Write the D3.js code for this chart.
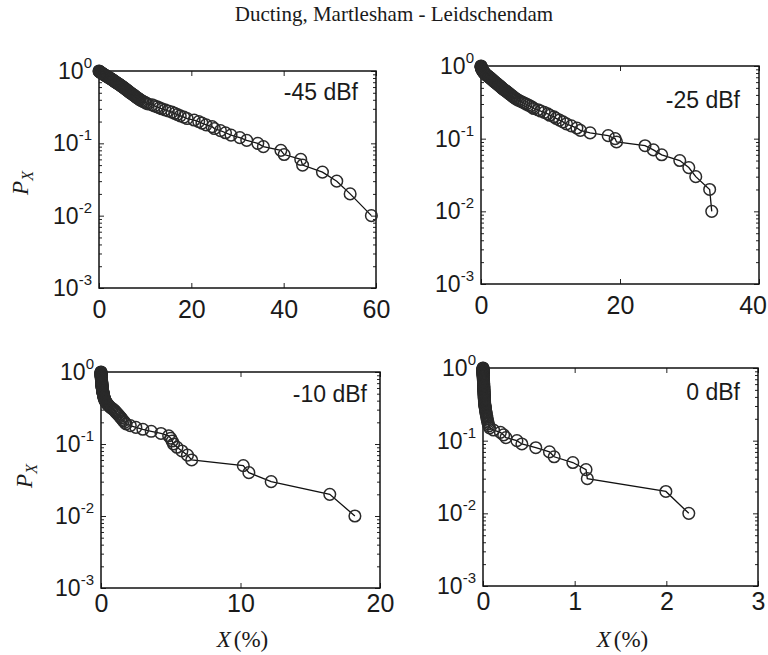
<!DOCTYPE html>
<html>
<head>
<meta charset="utf-8">
<script src="https://cdn.jsdelivr.net/npm/d3@7"></script>
<style>
  body { margin: 0; background: #fff; }
</style>
</head>
<body>
<svg id="chart" width="768" height="655"></svg>
<script>
// exceedance levels, shared by all four panels (1.00 down to 0.01)
const pLevels = [
  1.00, 0.99, 0.98, 0.97, 0.96, 0.95, 0.94, 0.93, 0.92, 0.91,
  0.90, 0.89, 0.88, 0.87, 0.86, 0.85, 0.84, 0.83, 0.82, 0.81,
  0.80, 0.79, 0.78, 0.77, 0.76, 0.75, 0.74, 0.73, 0.72, 0.71,
  0.70, 0.69, 0.68, 0.67, 0.66, 0.65, 0.64, 0.63, 0.62, 0.61,
  0.60, 0.59, 0.58, 0.57, 0.56, 0.55, 0.54, 0.53, 0.52, 0.51,
  0.50, 0.49, 0.48, 0.47, 0.46, 0.45, 0.44, 0.43, 0.42, 0.41,
  0.40, 0.39, 0.38, 0.37, 0.36, 0.35, 0.34, 0.33, 0.32, 0.31,
  0.30, 0.29, 0.28, 0.27, 0.26, 0.25, 0.24, 0.23, 0.22, 0.21,
  0.20, 0.19, 0.18, 0.17, 0.16, 0.15, 0.14, 0.13, 0.12, 0.11,
  0.10, 0.09, 0.08, 0.07, 0.06, 0.05, 0.04, 0.03, 0.02, 0.01
];

// X (%), same order as pLevels
const xMinus45 = [
  0, 0.05, 0.15, 0.25, 0.35, 0.45, 0.55, 0.65, 0.75, 0.85,
  1.0, 1.1, 1.25, 1.35, 1.5, 1.6, 1.75, 1.9, 2.0, 2.15,
  2.3, 2.45, 2.6, 2.7, 2.85, 3.0, 3.1, 3.25, 3.4, 3.5,
  3.6, 3.8, 3.95, 4.1, 4.3, 4.45, 4.6, 4.75, 4.9, 5.05,
  5.2, 5.35, 5.5, 5.65, 5.8, 5.95, 6.15, 6.3, 6.45, 6.6,
  6.8, 7.0, 7.2, 7.4, 7.6, 7.8, 8.0, 8.2, 8.45, 8.7,
  8.9, 9.2, 9.5, 9.9, 10.2, 10.6, 11.5, 12.0, 12.6, 13.1,
  13.6, 14.3, 15.0, 15.8, 16.4, 17.0, 17.6, 18.4, 19.1, 20.6,
  21.6, 22.3, 23.2, 24.5, 25.0, 26.3, 27.4, 28.6, 30.5, 32.0,
  34.4, 35.6, 39.4, 40.1, 43.7, 44.1, 48.4, 51.5, 54.4, 59.0
];
const xMinus25 = [
  0, 0.01, 0.02, 0.03, 0.04, 0.05, 0.06, 0.08, 0.10, 0.12,
  0.15, 0.18, 0.2, 0.22, 0.25, 0.3, 0.33, 0.37, 0.42, 0.46,
  0.5, 0.55, 0.6, 0.66, 0.72, 0.8, 0.88, 0.96, 1.04, 1.12,
  1.2, 1.28, 1.36, 1.44, 1.52, 1.6, 1.68, 1.76, 1.84, 1.92,
  2.0, 2.1, 2.2, 2.3, 2.4, 2.5, 2.6, 2.7, 2.8, 2.9,
  3.0, 3.1, 3.2, 3.35, 3.5, 3.6, 3.75, 3.9, 4.0, 4.15,
  4.3, 4.45, 4.6, 4.75, 4.9, 5.1, 5.35, 5.6, 5.9, 6.2,
  6.5, 6.8, 7.1, 7.4, 7.6, 8.2, 8.6, 9.1, 9.6, 9.9,
  10.5, 10.8, 11.3, 11.8, 12.3, 13.0, 13.8, 14.3, 15.7, 18.3,
  19.3, 19.5, 23.6, 24.8, 26.0, 28.6, 29.9, 30.9, 32.9, 33.2
];
const xMinus10 = [
  0, 0, 0, 0, 0, 0, 0, 0.01, 0.01, 0.01,
  0.01, 0.01, 0.01, 0.02, 0.02, 0.02, 0.02, 0.02, 0.03, 0.03,
  0.03, 0.03, 0.03, 0.04, 0.04, 0.04, 0.04, 0.05, 0.05, 0.05,
  0.05, 0.06, 0.06, 0.06, 0.07, 0.07, 0.07, 0.08, 0.08, 0.09,
  0.09, 0.1, 0.1, 0.11, 0.11, 0.12, 0.12, 0.13, 0.14, 0.15,
  0.16, 0.17, 0.18, 0.19, 0.2, 0.21, 0.22, 0.24, 0.26, 0.28,
  0.3, 0.33, 0.36, 0.4, 0.45, 0.5, 0.56, 0.62, 0.7, 0.8,
  0.9, 0.98, 1.05, 1.12, 1.2, 1.28, 1.36, 1.44, 1.52, 1.6,
  1.7, 1.8, 2.1, 2.5, 3.0, 3.6, 4.3, 4.85, 5.0, 5.1,
  5.2, 5.45, 5.8, 6.2, 6.5, 10.2, 10.6, 12.2, 16.4, 18.2
];
const xZero = [
  0, 0, 0, 0, 0, 0, 0, 0, 0, 0,
  0, 0, 0, 0.001, 0.001, 0.001, 0.001, 0.002, 0.002, 0.002,
  0.002, 0.002, 0.003, 0.003, 0.003, 0.003, 0.004, 0.004, 0.004, 0.004,
  0.004, 0.005, 0.005, 0.005, 0.005, 0.006, 0.006, 0.006, 0.006, 0.007,
  0.007, 0.007, 0.007, 0.008, 0.008, 0.008, 0.008, 0.009, 0.009, 0.009,
  0.01, 0.01, 0.01, 0.011, 0.011, 0.012, 0.012, 0.013, 0.013, 0.013,
  0.013, 0.014, 0.014, 0.015, 0.016, 0.016, 0.017, 0.018, 0.019, 0.02,
  0.022, 0.024, 0.025, 0.027, 0.029, 0.031, 0.033, 0.036, 0.039, 0.042,
  0.045, 0.048, 0.052, 0.058, 0.065, 0.072, 0.115, 0.19, 0.225, 0.25,
  0.37, 0.424, 0.576, 0.725, 0.776, 0.98, 1.124, 1.138, 1.995, 2.245
];

const panelLabels = ["-45 dBf", "-25 dBf", "-10 dBf", "0 dBf"];
const xTickSets = [[0, 20, 40, 60], [0, 20, 40], [0, 10, 20], [0, 1, 2, 3]];
const yDecades = [1e-3, 1e-2, 1e-1, 1];
const yExponents = ["-3", "-2", "-1", "0"];
const titleText = "Ducting, Martlesham - Leidschendam";

const sans = '"Liberation Sans", Arial, Helvetica, sans-serif';
const serif = '"Liberation Serif", "Times New Roman", serif';

// where each box sits on the page
const layout = [
  { left: 99,  top: 71,  w: 277, h: 217, pad: 12, labDy: 29, labDx: 18, showX: false, yLab: [28, 183] },
  { left: 481, top: 66,  w: 278, h: 218, pad: 12, labDy: 42, labDx: 19, showX: false, yLab: null },
  { left: 101, top: 372, w: 279, h: 216, pad: 6,  labDy: 30, labDx: 13, showX: true,  yLab: [32, 476] },
  { left: 483, top: 368, w: 275, h: 218, pad: 6,  labDy: 32, labDx: 18, showX: true,  yLab: null }
];
const series = [xMinus45, xMinus25, xMinus10, xZero];

const svg = d3.select('#chart');

svg.append('text')
  .attr('x', 394).attr('y', 21)
  .attr('text-anchor', 'middle')
  .attr('font-family', serif).attr('font-size', 21)
  .attr('fill', '#1a1a1a')
  .text(titleText);

class Panel {
  constructor(cfg, xs, label, xTicks) {
    this.cfg = cfg;
    this.xs = xs;
    this.label = label;
    this.xTicks = xTicks;
    this.draw();
  }
  draw() {
    let c = this.cfg;
    let g = svg.append('g').attr('transform', 'translate(' + c.left + ',' + c.top + ')');

    let x = d3.scaleLinear().domain([0, d3.max(this.xTicks)]).range([0, c.w]);
    let y = d3.scaleLog().domain([1e-3, 1]).range([c.h, 0]);
    let minor = y.ticks().filter(v => !yDecades.some(d => Math.abs(d - v) < d * 1e-6));

    // x ticks, inward, bottom with labels and top without
    let bottom = g.append('g').attr('transform', 'translate(0,' + c.h + ')')
      .call(d3.axisBottom(x).tickValues(this.xTicks).tickSize(-5).tickSizeOuter(0)
        .tickPadding(c.pad).tickFormat(d3.format('d')));
    bottom.selectAll('text').attr('font-family', sans).attr('font-size', 25).attr('fill', '#1a1a1a');
    // keep the rightmost label inside the page
    bottom.selectAll('text').each(function() {
      let b = this.getBoundingClientRect();
      if (b.right > 767) d3.select(this).attr('dx', -(b.right - 767));
    });
    g.append('g')
      .call(d3.axisTop(x).tickValues(this.xTicks).tickSize(-5).tickSizeOuter(0).tickFormat(''));

    // log ticks on both sides
    g.append('g').call(d3.axisLeft(y).tickValues(minor).tickSize(-3).tickSizeOuter(0).tickFormat(''));
    g.append('g').call(d3.axisLeft(y).tickValues(yDecades).tickSize(-5).tickSizeOuter(0).tickFormat(''));
    g.append('g').attr('transform', 'translate(' + c.w + ',0)')
      .call(d3.axisRight(y).tickValues(minor).tickSize(-3).tickSizeOuter(0).tickFormat(''));
    g.append('g').attr('transform', 'translate(' + c.w + ',0)')
      .call(d3.axisRight(y).tickValues(yDecades).tickSize(-5).tickSizeOuter(0).tickFormat(''));

    g.selectAll('.domain').remove();
    g.selectAll('.tick line').attr('stroke', '#222').attr('stroke-width', 1);

    g.append('rect')
      .attr('width', c.w).attr('height', c.h)
      .attr('fill', 'none').attr('stroke', '#111').attr('stroke-width', 1.5);

    // 10^k labels
    yDecades.forEach((d, i) => {
      let t = g.append('text')
        .attr('x', -7).attr('y', y(d) + 8)
        .attr('text-anchor', 'end')
        .attr('font-family', sans).attr('font-size', 23)
        .attr('fill', '#1a1a1a')
        .text('10');
      t.append('tspan').attr('dy', -11).attr('font-size', 15).text(yExponents[i]);
    });

    g.append('text')
      .attr('x', c.w - c.labDx).attr('y', c.labDy)
      .attr('text-anchor', 'end')
      .attr('font-family', sans).attr('font-size', 23)
      .attr('fill', '#1a1a1a')
      .text(this.label);

    let pts = this.xs.map((v, i) => [v, pLevels[i]]);
    let line = d3.line().x(d => x(d[0])).y(d => y(d[1]));

    g.append('path').datum(pts)
      .attr('d', line)
      .attr('fill', 'none').attr('stroke', '#111').attr('stroke-width', 1.3);

    g.selectAll('circle.pt').data(pts).enter().append('circle')
      .attr('class', 'pt')
      .attr('cx', d => x(d[0]))
      .attr('cy', d => y(d[1]))
      .attr('r', 5.8)
      .attr('fill', 'none')
      .attr('stroke', '#2a2a2a')
      .attr('stroke-width', 1.5);

    if (c.yLab) {
      let yl = svg.append('text')
        .attr('transform', 'translate(' + c.yLab[0] + ',' + c.yLab[1] + ') rotate(-90)')
        .attr('text-anchor', 'middle')
        .attr('font-family', serif).attr('font-size', 23)
        .attr('font-style', 'italic')
        .attr('fill', '#1a1a1a')
        .text('P');
      yl.append('tspan').attr('dy', 5).attr('font-size', 16).text('X');
    }
    if (c.showX) {
      let xl = svg.append('text')
        .attr('x', c.left + c.w / 2 + 2).attr('y', 647)
        .attr('text-anchor', 'middle')
        .attr('font-family', serif).attr('font-size', 23)
        .attr('fill', '#1a1a1a');
      xl.append('tspan').attr('font-style', 'italic').text('X');
      xl.append('tspan').attr('dx', 3).text('(%)');
    }
  }
}

layout.forEach((cfg, i) => new Panel(cfg, series[i], panelLabels[i], xTickSets[i]));
</script>
</body>
</html>
